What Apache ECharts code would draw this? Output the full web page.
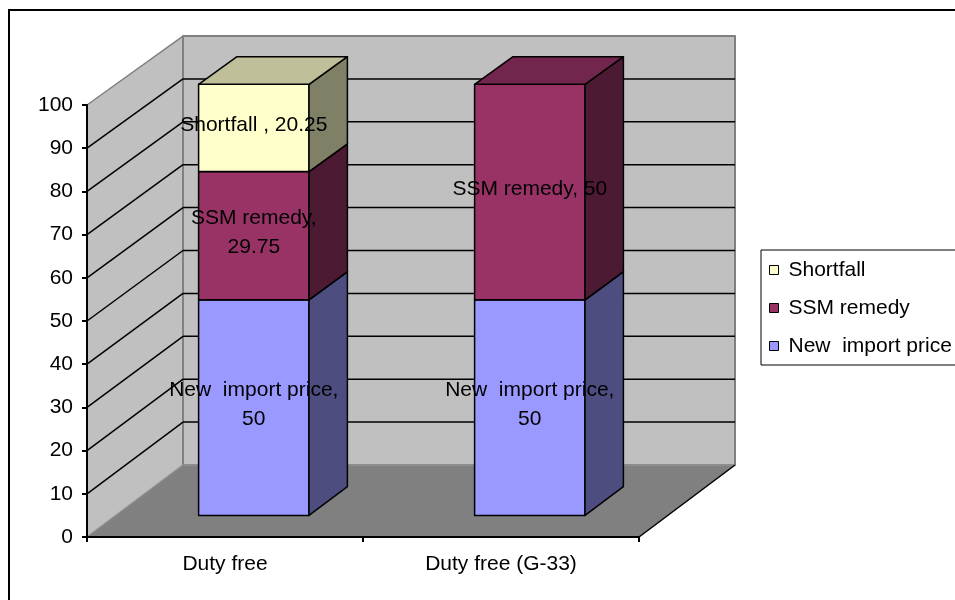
<!DOCTYPE html>
<html lang="en" style="height: 100%">

<head>
  <meta charset="utf-8">
</head>

<body style="height: 100%; margin: 0; background: #fff">
  <div id="container" style="height: 100%"></div>
  <script src="https://cdn.jsdelivr.net/npm/echarts@6/dist/echarts.min.js"></script>
  <script>
    var dom = document.getElementById('container');
    var myChart = echarts.init(dom, null, { renderer: 'canvas' });

    // data
    const categories = ['Duty free', 'Duty free (G-33)'];
    const seriesNames = ['New  import price', 'SSM remedy', 'Shortfall'];
    const newImportPrice = [50, 50];
    const ssmRemedy = [29.75, 50];
    const shortfall = [20.25, 0];
    const labelsNew = ['New  import price,\n50', 'New  import price,\n50'];
    const labelsSsm = ['SSM remedy,\n29.75', 'SSM remedy, 50'];
    const labelsShort = ['Shortfall , 20.25', ''];
    const colors = ['#9999FF', '#993366', '#FFFFCC'];

    const stack = [newImportPrice, ssmRemedy, shortfall];
    const labels = [labelsNew, labelsSsm, labelsShort];

    // fake 3d depth
    const DX = 96, DY = -72, SHRINK = 0.007;
    const T_FRONT = 0.3, T_BACK = 0.7;
    const FAMILY = '"Liberation Sans", Arial, sans-serif';
    const FONT = '21px ' + FAMILY;

    function proj(api, x, v, t) {
      const base = api.coord([0, 0])[1];
      const yv = api.coord([0, v])[1];
      return [x + t * DX, base + t * DY - (base - yv) * (1 - SHRINK * t)];
    }

    function shade(hex, k) {
      const n = parseInt(hex.slice(1), 16);
      const r = Math.round(((n >> 16) & 255) * k);
      const g = Math.round(((n >> 8) & 255) * k);
      const b = Math.round((n & 255) * k);
      return 'rgb(' + r + ',' + g + ',' + b + ')';
    }

    function poly(points, fill, stroke, lw) {
      return {
        type: 'polygon',
        shape: { points: points },
        style: { fill: fill, stroke: stroke, lineWidth: lw, lineJoin: 'round' }
      };
    }

    function line(a, b, stroke, lw) {
      return {
        type: 'line',
        shape: { x1: a[0], y1: a[1], x2: b[0], y2: b[1] },
        style: { stroke: stroke, lineWidth: lw }
      };
    }

    function renderWalls(params, api) {
      const cs = params.coordSys;
      const L = cs.x, R = cs.x + cs.width;
      const kids = [];
      kids.push(poly([proj(api, L, 0, 0), proj(api, L, 0, 1), proj(api, L, 100, 1), proj(api, L, 100, 0)], '#C0C0C0', '#808080', 1.5));
      kids.push(poly([proj(api, L, 0, 1), proj(api, R, 0, 1), proj(api, R, 100, 1), proj(api, L, 100, 1)], '#C0C0C0', '#808080', 2));
      kids.push(poly([proj(api, L, 0, 0), proj(api, R, 0, 0), proj(api, R, 0, 1), proj(api, L, 0, 1)], '#808080', '#999999', 1));
      kids.push(line(proj(api, R, 0, 0), proj(api, R, 0, 1), '#000', 1.5));
      for (let v = 10; v < 100; v += 10) {
        kids.push(line(proj(api, L, v, 0), proj(api, L, v, 1), '#000', 1.5));
        kids.push(line(proj(api, L, v, 1), proj(api, R, v, 1), '#000', 1.5));
      }
      return { type: 'group', children: kids };
    }

    function makeBarRenderer(s) {
      return function (params, api) {
        const i = params.dataIndex;
        const val = stack[s][i];
        if (!val) return null;
        let v0 = 0;
        for (let k = 0; k < s; k++) v0 += stack[k][i];
        const v1 = v0 + val;
        const cx = api.coord([i, 0])[0];
        const half = api.size([1, 0])[0] * 0.2;
        const xl = cx - half, xr = cx + half;
        const c = colors[s];
        const front = [proj(api, xl, v0, T_FRONT), proj(api, xr, v0, T_FRONT), proj(api, xr, v1, T_FRONT), proj(api, xl, v1, T_FRONT)];
        const side = [proj(api, xr, v0, T_FRONT), proj(api, xr, v0, T_BACK), proj(api, xr, v1, T_BACK), proj(api, xr, v1, T_FRONT)];
        const top = [proj(api, xl, v1, T_FRONT), proj(api, xr, v1, T_FRONT), proj(api, xr, v1, T_BACK), proj(api, xl, v1, T_BACK)];
        const kids = [
          poly(front, c, '#000', 1.5),
          poly(side, shade(c, 0.5), '#000', 1.5),
          poly(top, shade(c, 0.75), '#000', 1.5)
        ];
        const txt = labels[s][i];
        if (txt) {
          kids.push({
            type: 'text',
            z2: 100,
            style: {
              x: (front[0][0] + front[1][0]) / 2,
              y: (front[0][1] + front[2][1]) / 2 - 3,
              text: txt,
              font: FONT,
              lineHeight: 29,
              fill: '#000',
              align: 'center',
              verticalAlign: 'middle'
            }
          });
        }
        return { type: 'group', children: kids };
      };
    }

    const series = [{
      type: 'custom',
      name: 'walls',
      silent: true,
      z: 1,
      renderItem: renderWalls,
      data: [[0, 0]]
    }];
    for (let s = 0; s < seriesNames.length; s++) {
      series.push({
        type: 'custom',
        name: seriesNames[s],
        z: 2 + s,
        itemStyle: { color: colors[s] },
        renderItem: makeBarRenderer(s),
        data: stack[s].map((v, i) => [i, v])
      });
    }

    var option = {
      animation: false,
      backgroundColor: '#fff',
      graphic: [{
        type: 'rect',
        z: -10,
        shape: { x: 9, y: 10, width: 1000, height: 1000 },
        style: { fill: 'none', stroke: '#000', lineWidth: 2 }
      }],
      legend: {
        orient: 'vertical',
        left: 761,
        top: 250,
        data: ['Shortfall', 'SSM remedy', 'New  import price'],
        icon: 'rect',
        itemWidth: 9,
        itemHeight: 9,
        itemGap: 16,
        padding: [9, 30, 8, 8],
        borderColor: '#000',
        borderWidth: 1,
        backgroundColor: '#fff',
        itemStyle: { borderColor: '#000', borderWidth: 1 },
        textStyle: {
          color: '#000',
          fontSize: 21,
          fontFamily: FAMILY,
          lineHeight: 22,
          padding: [0, 0, 0, 5]
        }
      },
      grid: {
        left: 87,
        top: 105,
        width: 552,
        height: 432
      },
      xAxis: {
        type: 'category',
        data: categories,
        boundaryGap: true,
        z: 10,
        axisLine: { lineStyle: { color: '#000', width: 2 } },
        axisTick: { show: true, length: 5, interval: 0, lineStyle: { color: '#000', width: 2 } },
        axisLabel: {
          color: '#000',
          fontSize: 21,
          fontFamily: FAMILY,
          margin: 17,
          interval: 0
        }
      },
      yAxis: {
        type: 'value',
        min: 0,
        max: 100,
        interval: 10,
        z: 10,
        splitLine: { show: false },
        axisLine: { show: true, lineStyle: { color: '#000', width: 2 } },
        axisTick: { show: true, length: 5, lineStyle: { color: '#000', width: 2 } },
        axisLabel: {
          color: '#000',
          fontSize: 21,
          fontFamily: FAMILY,
          margin: 14
        }
      },
      series
    };

    myChart.setOption(option);
    window.addEventListener('resize', myChart.resize);
  </script>
</body>

</html>
